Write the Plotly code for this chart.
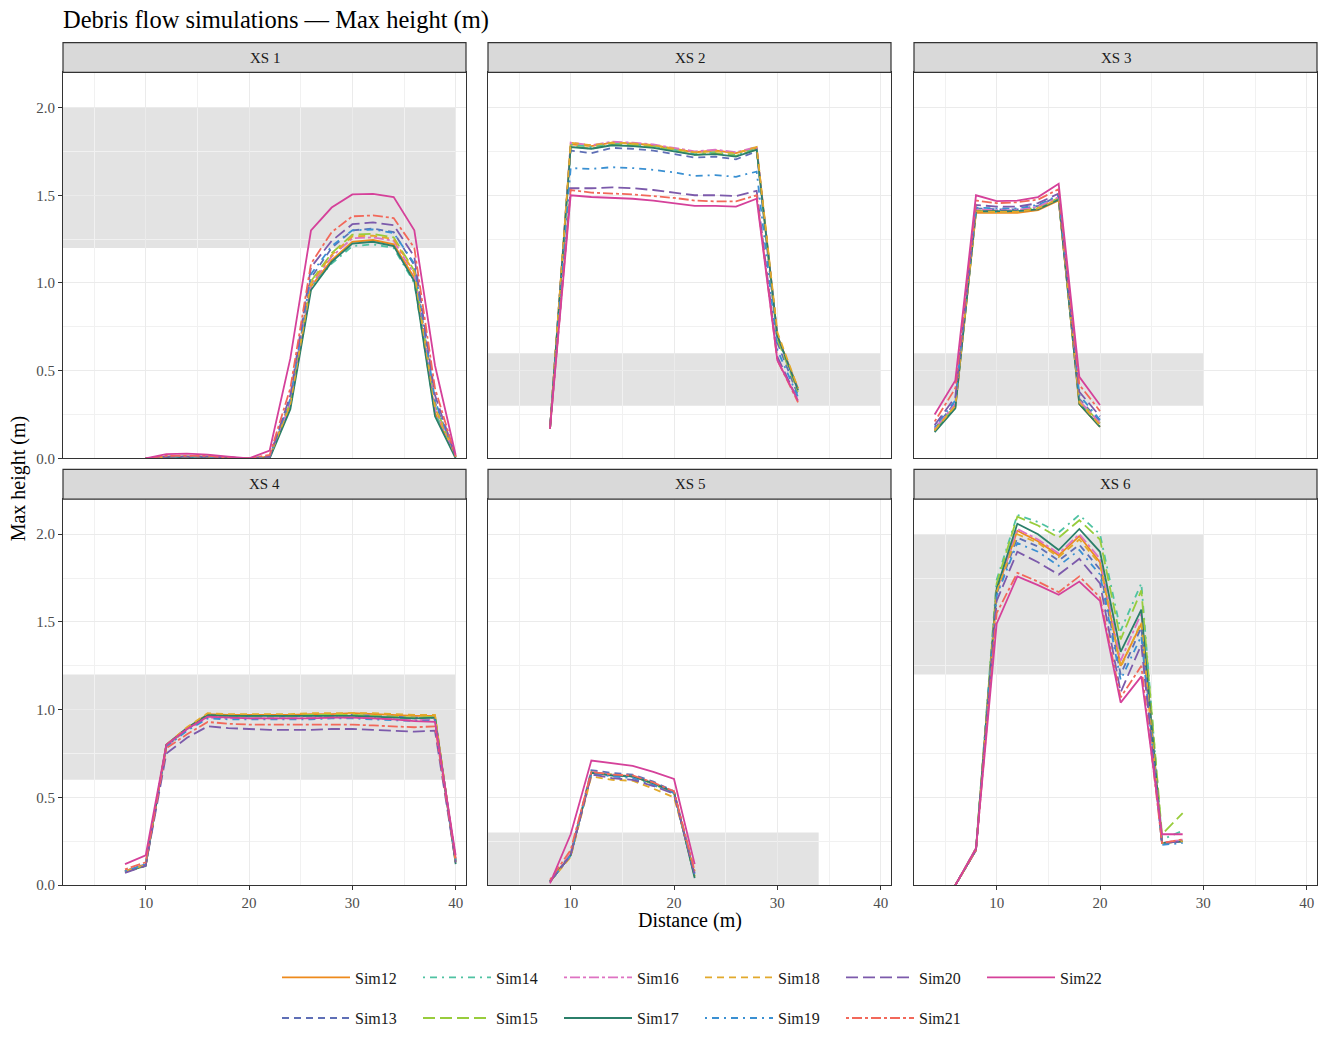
import plotly.graph_objects as go
from plotly.subplots import make_subplots

W, H = 1327, 1041
FONT = "Liberation Serif"

SIMS = ["Sim12", "Sim13", "Sim14", "Sim15", "Sim16", "Sim17",
        "Sim18", "Sim19", "Sim20", "Sim21", "Sim22"]
COLORS = ["#EE8A1C", "#5F6FB6", "#4FC2A2", "#98CC3C", "#DE72C2", "#2B7F6A",
          "#E2A92C", "#3A90D2", "#7C5AAB", "#F2685A", "#D5419A"]
DASHES = ["solid", "7px,5px", "2px,5px,7px,5px", "12px,5px", "3px,3px,10px,3px",
          "solid", "7px,5px", "2px,5px,7px,5px", "12px,5px", "3px,3px,10px,3px", "solid"]

PANELS = ["XS 1", "XS 2", "XS 3", "XS 4", "XS 5", "XS 6"]

# ---- XS 1 ----
XS1_X = [10, 12, 14, 16, 18, 20, 22, 24, 26, 28, 30, 32, 34, 36, 38, 40]
XS1_H = {
    "Sim12": [0, 0.01, 0.01, 0.01, 0.005, 0, 0.01, 0.30, 0.98, 1.13, 1.235, 1.245, 1.22, 1.03, 0.26, 0.01],
    "Sim13": [0, 0.01, 0.01, 0.01, 0.005, 0, 0.01, 0.33, 1.03, 1.20, 1.30, 1.31, 1.29, 1.10, 0.32, 0.01],
    "Sim14": [0, 0.01, 0.01, 0.01, 0.005, 0, 0.01, 0.30, 0.98, 1.11, 1.21, 1.22, 1.20, 1.00, 0.26, 0.01],
    "Sim15": [0, 0.01, 0.01, 0.01, 0.005, 0, 0.01, 0.32, 1.01, 1.17, 1.275, 1.28, 1.26, 1.07, 0.30, 0.01],
    "Sim16": [0, 0.01, 0.01, 0.01, 0.005, 0, 0.01, 0.31, 0.99, 1.15, 1.255, 1.26, 1.24, 1.05, 0.28, 0.01],
    "Sim17": [0, 0.005, 0.005, 0.005, 0.0, 0, 0.0, 0.28, 0.96, 1.12, 1.225, 1.235, 1.21, 1.01, 0.24, 0.0],
    "Sim18": [0, 0.01, 0.01, 0.01, 0.005, 0, 0.01, 0.31, 1.00, 1.16, 1.265, 1.27, 1.25, 1.06, 0.29, 0.01],
    "Sim19": [0, 0.01, 0.01, 0.01, 0.005, 0, 0.01, 0.34, 1.05, 1.21, 1.30, 1.305, 1.285, 1.11, 0.33, 0.01],
    "Sim20": [0, 0.01, 0.01, 0.01, 0.005, 0, 0.01, 0.36, 1.09, 1.24, 1.335, 1.345, 1.33, 1.15, 0.36, 0.01],
    "Sim21": [0, 0.015, 0.015, 0.015, 0.005, 0, 0.02, 0.40, 1.11, 1.29, 1.38, 1.385, 1.37, 1.20, 0.40, 0.01],
    "Sim22": [0, 0.025, 0.028, 0.022, 0.01, 0, 0.045, 0.57, 1.30, 1.43, 1.505, 1.508, 1.49, 1.30, 0.53, 0.02],
}

# ---- XS 2 ----
XS2_X = [8, 10, 12, 14, 16, 18, 20, 22, 24, 26, 28, 30, 32]
XS2_H = {
    "Sim12": [0.17, 1.79, 1.78, 1.80, 1.795, 1.785, 1.765, 1.745, 1.755, 1.74, 1.77, 0.70, 0.40],
    "Sim13": [0.17, 1.755, 1.74, 1.77, 1.765, 1.755, 1.735, 1.715, 1.72, 1.705, 1.75, 0.66, 0.36],
    "Sim14": [0.17, 1.79, 1.775, 1.795, 1.79, 1.78, 1.76, 1.735, 1.745, 1.73, 1.765, 0.69, 0.39],
    "Sim15": [0.17, 1.78, 1.765, 1.79, 1.785, 1.775, 1.755, 1.73, 1.74, 1.725, 1.76, 0.68, 0.38],
    "Sim16": [0.17, 1.80, 1.785, 1.805, 1.80, 1.79, 1.77, 1.75, 1.76, 1.745, 1.775, 0.70, 0.39],
    "Sim17": [0.17, 1.775, 1.765, 1.785, 1.78, 1.77, 1.75, 1.73, 1.735, 1.72, 1.76, 0.70, 0.39],
    "Sim18": [0.17, 1.80, 1.785, 1.80, 1.795, 1.785, 1.765, 1.745, 1.75, 1.74, 1.775, 0.72, 0.40],
    "Sim19": [0.17, 1.655, 1.65, 1.66, 1.655, 1.645, 1.63, 1.61, 1.615, 1.605, 1.635, 0.62, 0.35],
    "Sim20": [0.17, 1.54, 1.54, 1.545, 1.54, 1.53, 1.515, 1.50, 1.50, 1.495, 1.525, 0.58, 0.33],
    "Sim21": [0.17, 1.53, 1.515, 1.51, 1.505, 1.495, 1.485, 1.47, 1.465, 1.465, 1.50, 0.56, 0.32],
    "Sim22": [0.17, 1.50, 1.49, 1.485, 1.48, 1.47, 1.455, 1.44, 1.44, 1.435, 1.48, 0.56, 0.33],
}

# ---- XS 3 ----
XS3_X = [4, 6, 8, 10, 12, 14, 16, 18, 20]
XS3_H = {
    "Sim12": [0.155, 0.29, 1.40, 1.40, 1.40, 1.415, 1.47, 0.31, 0.18],
    "Sim13": [0.17, 0.32, 1.425, 1.42, 1.42, 1.44, 1.495, 0.34, 0.21],
    "Sim14": [0.16, 0.30, 1.41, 1.405, 1.41, 1.425, 1.48, 0.32, 0.19],
    "Sim15": [0.165, 0.30, 1.415, 1.41, 1.41, 1.43, 1.485, 0.33, 0.20],
    "Sim16": [0.17, 0.31, 1.42, 1.415, 1.415, 1.435, 1.49, 0.33, 0.20],
    "Sim17": [0.15, 0.285, 1.41, 1.41, 1.41, 1.42, 1.475, 0.31, 0.18],
    "Sim18": [0.16, 0.30, 1.41, 1.405, 1.405, 1.425, 1.48, 0.32, 0.19],
    "Sim19": [0.18, 0.33, 1.43, 1.425, 1.425, 1.445, 1.50, 0.36, 0.22],
    "Sim20": [0.19, 0.35, 1.445, 1.435, 1.435, 1.455, 1.51, 0.38, 0.24],
    "Sim21": [0.21, 0.40, 1.47, 1.455, 1.46, 1.475, 1.535, 0.42, 0.27],
    "Sim22": [0.25, 0.445, 1.50, 1.467, 1.47, 1.49, 1.565, 0.465, 0.305],
}

# ---- XS 4 ----
XS4_X = [8, 10, 12, 14, 16, 18, 20, 22, 24, 26, 28, 30, 32, 34, 36, 38, 40]
XS4_H = {
    "Sim12": [0.08, 0.115, 0.80, 0.895, 0.975, 0.97, 0.97, 0.97, 0.97, 0.975, 0.975, 0.98, 0.975, 0.97, 0.965, 0.965, 0.13],
    "Sim13": [0.08, 0.12, 0.79, 0.89, 0.965, 0.96, 0.96, 0.96, 0.96, 0.965, 0.965, 0.97, 0.965, 0.96, 0.955, 0.955, 0.14],
    "Sim14": [0.075, 0.11, 0.795, 0.89, 0.965, 0.96, 0.96, 0.96, 0.96, 0.965, 0.965, 0.965, 0.96, 0.955, 0.95, 0.955, 0.14],
    "Sim15": [0.075, 0.11, 0.795, 0.89, 0.97, 0.965, 0.965, 0.965, 0.965, 0.97, 0.97, 0.97, 0.965, 0.96, 0.955, 0.96, 0.14],
    "Sim16": [0.08, 0.115, 0.79, 0.885, 0.955, 0.95, 0.95, 0.95, 0.95, 0.955, 0.955, 0.955, 0.95, 0.945, 0.94, 0.945, 0.15],
    "Sim17": [0.075, 0.11, 0.80, 0.895, 0.97, 0.965, 0.965, 0.965, 0.965, 0.965, 0.965, 0.965, 0.96, 0.955, 0.95, 0.955, 0.12],
    "Sim18": [0.08, 0.115, 0.80, 0.90, 0.98, 0.975, 0.975, 0.975, 0.975, 0.98, 0.98, 0.98, 0.98, 0.975, 0.97, 0.97, 0.13],
    "Sim19": [0.08, 0.12, 0.79, 0.88, 0.95, 0.945, 0.945, 0.945, 0.945, 0.945, 0.95, 0.95, 0.945, 0.94, 0.935, 0.94, 0.14],
    "Sim20": [0.07, 0.11, 0.75, 0.84, 0.905, 0.895, 0.89, 0.885, 0.885, 0.885, 0.89, 0.89, 0.885, 0.88, 0.875, 0.88, 0.13],
    "Sim21": [0.09, 0.13, 0.78, 0.86, 0.93, 0.92, 0.915, 0.915, 0.915, 0.915, 0.915, 0.915, 0.91, 0.905, 0.90, 0.905, 0.15],
    "Sim22": [0.12, 0.17, 0.80, 0.89, 0.96, 0.955, 0.95, 0.95, 0.95, 0.95, 0.955, 0.955, 0.95, 0.945, 0.935, 0.93, 0.17],
}

# ---- XS 5 ----
XS5_X = [8, 10, 12, 14, 16, 18, 20, 22]
XS5_H = {
    "Sim12": [0.02, 0.17, 0.645, 0.63, 0.62, 0.58, 0.53, 0.05],
    "Sim13": [0.02, 0.18, 0.655, 0.64, 0.63, 0.59, 0.535, 0.07],
    "Sim14": [0.02, 0.17, 0.64, 0.625, 0.615, 0.575, 0.525, 0.05],
    "Sim15": [0.02, 0.17, 0.64, 0.63, 0.62, 0.575, 0.525, 0.05],
    "Sim16": [0.02, 0.18, 0.645, 0.63, 0.62, 0.58, 0.53, 0.06],
    "Sim17": [0.02, 0.17, 0.64, 0.625, 0.62, 0.58, 0.53, 0.04],
    "Sim18": [0.02, 0.16, 0.62, 0.60, 0.595, 0.55, 0.50, 0.08],
    "Sim19": [0.02, 0.17, 0.635, 0.62, 0.61, 0.57, 0.525, 0.06],
    "Sim20": [0.02, 0.17, 0.63, 0.61, 0.60, 0.565, 0.52, 0.06],
    "Sim21": [0.03, 0.20, 0.645, 0.63, 0.625, 0.585, 0.535, 0.08],
    "Sim22": [0.01, 0.29, 0.71, 0.695, 0.68, 0.645, 0.605, 0.12],
}

# ---- XS 6 ----
XS6_X = [6, 8, 10, 12, 14, 16, 18, 20, 22, 24, 26, 28]
XS6_H = {
    "Sim12": [0, 0.20, 1.68, 2.02, 1.96, 1.88, 1.99, 1.84, 1.25, 1.49, 0.24, 0.25],
    "Sim13": [0, 0.20, 1.66, 1.98, 1.93, 1.85, 1.94, 1.80, 1.20, 1.47, 0.24, 0.25],
    "Sim14": [0, 0.21, 1.74, 2.11, 2.07, 2.01, 2.11, 2.00, 1.45, 1.72, 0.26, 0.31],
    "Sim15": [0, 0.21, 1.72, 2.10, 2.05, 1.98, 2.08, 1.97, 1.40, 1.68, 0.29, 0.41],
    "Sim16": [0, 0.20, 1.68, 2.03, 1.97, 1.89, 2.00, 1.86, 1.28, 1.55, 0.24, 0.26],
    "Sim17": [0, 0.20, 1.69, 2.06, 2.00, 1.91, 2.03, 1.90, 1.33, 1.57, 0.24, 0.25],
    "Sim18": [0, 0.20, 1.67, 2.00, 1.95, 1.87, 1.97, 1.83, 1.24, 1.50, 0.24, 0.25],
    "Sim19": [0, 0.20, 1.65, 1.95, 1.90, 1.82, 1.91, 1.77, 1.17, 1.42, 0.23, 0.24],
    "Sim20": [0, 0.20, 1.62, 1.90, 1.84, 1.77, 1.86, 1.72, 1.10, 1.37, 0.24, 0.25],
    "Sim21": [0, 0.20, 1.55, 1.78, 1.73, 1.67, 1.76, 1.64, 1.07, 1.25, 0.24, 0.26],
    "Sim22": [0, 0.21, 1.49, 1.76, 1.71, 1.655, 1.73, 1.62, 1.04, 1.19, 0.29, 0.29],
}

# Reference bands per panel: (x_start, x_end, y_low, y_high)
BAND_X0 = [2, 2, 2, 2, 2, 2]
BAND_X1 = [40, 40, 30, 40, 34, 30]
BAND_Y0 = [1.2, 0.3, 0.3, 0.6, 0.0, 1.2]
BAND_Y1 = [2.0, 0.6, 0.6, 1.2, 0.3, 2.0]

X_TICKS = [10, 20, 30, 40]
X_MINOR = [5, 15, 25, 35]
Y_TICKS = [0, 0.5, 1.0, 1.5, 2.0]
Y_TICKTEXT = ["0.0", "0.5", "1.0", "1.5", "2.0"]
Y_MINOR = [0.25, 0.75, 1.25, 1.75]
X_RANGE = [2, 41]
Y_RANGE = [0, 2.2]

PANEL_X = [XS1_X, XS2_X, XS3_X, XS4_X, XS5_X, XS6_X]
PANEL_H = [XS1_H, XS2_H, XS3_H, XS4_H, XS5_H, XS6_H]

# ---- layout geometry (pixels) ----
COLS_PX = [(63, 466), (488, 891), (914, 1317)]
ROWS_PX = [(73, 462), (503, 892)]       # panel top, bottom
STRIP_PX = [(43, 73), (473, 503)]

fig = make_subplots(rows=2, cols=3)

for si, sim in enumerate(SIMS):
    leg = "legend" if si % 2 == 0 else "legend2"
    for p in range(6):
        r, c = p // 3 + 1, p % 3 + 1
        fig.add_trace(go.Scatter(
            x=PANEL_X[p], y=PANEL_H[p][sim], mode="lines", name=sim,
            legendgroup=sim, showlegend=(p == 0), legend=leg,
            line=dict(color=COLORS[si], width=1.8, dash=DASHES[si]),
        ), row=r, col=c)

axis_common = dict(showline=True, mirror=True, linecolor="#333333", linewidth=1.2,
                   zeroline=False, showgrid=True, gridcolor="#EBEBEB", gridwidth=1,
                   tickfont=dict(family=FONT, size=15, color="#4D4D4D"),
                   tickcolor="#333333", ticklen=4, tickwidth=1.2)

for p in range(6):
    r, c = p // 3, p % 3
    idx = "" if p == 0 else str(p + 1)
    x0, x1 = COLS_PX[c]
    y0, y1 = ROWS_PX[r]
    fig.layout["xaxis" + idx].update(
        domain=[x0 / W, x1 / W], range=X_RANGE, tickvals=X_TICKS,
        showticklabels=(r == 1), ticks="outside" if r == 1 else "",
        minor=dict(tickvals=X_MINOR, showgrid=True, gridcolor="#F1F1F1", gridwidth=1, ticks=""),
        **axis_common)
    fig.layout["yaxis" + idx].update(
        domain=[1 - y1 / H, 1 - y0 / H], range=Y_RANGE, tickvals=Y_TICKS, ticktext=Y_TICKTEXT,
        showticklabels=(c == 0), ticks="outside" if c == 0 else "",
        minor=dict(tickvals=Y_MINOR, showgrid=True, gridcolor="#F1F1F1", gridwidth=1, ticks=""),
        **axis_common)
    # reference band
    fig.add_shape(type="rect", xref="x" + idx, yref="y" + idx,
                  x0=BAND_X0[p], x1=BAND_X1[p], y0=BAND_Y0[p], y1=BAND_Y1[p],
                  fillcolor="rgba(128,128,128,0.22)", line=dict(width=0), layer="below")
    # strip
    s0, s1 = STRIP_PX[r]
    fig.add_shape(type="rect", xref="paper", yref="paper",
                  x0=x0 / W, x1=x1 / W, y0=1 - s1 / H, y1=1 - s0 / H,
                  fillcolor="#D9D9D9", line=dict(color="#333333", width=1.2))
    fig.add_annotation(xref="paper", yref="paper", x=(x0 + x1) / 2 / W, y=1 - (s0 + s1) / 2 / H,
                       text=PANELS[p], showarrow=False, xanchor="center", yanchor="middle",
                       font=dict(family=FONT, size=15, color="#1A1A1A"))

# titles
fig.add_annotation(xref="paper", yref="paper", x=61 / W, y=1 - 20 / H, text="Debris flow simulations — Max height (m)",
                   showarrow=False, xanchor="left", yanchor="middle",
                   font=dict(family=FONT, size=24.5, color="#000000"))
fig.add_annotation(xref="paper", yref="paper", x=689.5 / W, y=1 - 928 / H, text="Distance (m)",
                   showarrow=False, xanchor="center", yanchor="middle",
                   font=dict(family=FONT, size=20, color="#000000"))
fig.add_annotation(xref="paper", yref="paper", x=18 / W, y=1 - 482 / H, text="Max height (m)",
                   showarrow=False, xanchor="center", yanchor="middle", textangle=-90,
                   font=dict(family=FONT, size=20, color="#000000"))

legend_common = dict(orientation="h", xanchor="left", yanchor="middle",
                     entrywidth=58, entrywidthmode="pixels", bgcolor="rgba(0,0,0,0)",
                     font=dict(family=FONT, size=16, color="#1A1A1A"), itemwidth=68)

fig.update_layout(
    width=W, height=H, margin=dict(l=0, r=0, t=0, b=0),
    paper_bgcolor="white", plot_bgcolor="white",
    legend=dict(x=277 / W, y=1 - 985 / H, **legend_common),
    legend2=dict(x=277 / W, y=1 - 1026 / H, **legend_common),
)

fig.write_html("out.html")
